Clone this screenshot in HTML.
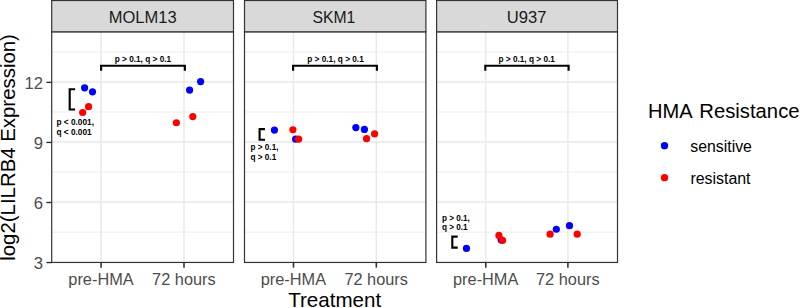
<!DOCTYPE html>
<html><head><meta charset="utf-8"><title>chart</title>
<style>html,body{margin:0;padding:0;background:#fff;}body{width:800px;height:308px;overflow:hidden;font-family:"Liberation Sans",sans-serif;}</style>
</head><body>
<svg width="800" height="308" viewBox="0 0 800 308" style="display:block;font-family:'Liberation Sans',sans-serif">
<rect x="0" y="0" width="800" height="308" fill="#fff"/>
<rect x="51.7" y="31.8" width="181.8" height="230.64999999999998" fill="#fff"/>
<line x1="51.7" x2="233.5" y1="232.11999999999998" y2="232.11999999999998" stroke="#EBEBEB" stroke-width="0.95"/>
<line x1="51.7" x2="233.5" y1="172.05999999999997" y2="172.05999999999997" stroke="#EBEBEB" stroke-width="0.95"/>
<line x1="51.7" x2="233.5" y1="111.99999999999997" y2="111.99999999999997" stroke="#EBEBEB" stroke-width="0.95"/>
<line x1="51.7" x2="233.5" y1="51.93999999999997" y2="51.93999999999997" stroke="#EBEBEB" stroke-width="0.95"/>
<line x1="51.7" x2="233.5" y1="202.08999999999997" y2="202.08999999999997" stroke="#E9E9E9" stroke-width="1.5"/>
<line x1="51.7" x2="233.5" y1="142.02999999999997" y2="142.02999999999997" stroke="#E9E9E9" stroke-width="1.5"/>
<line x1="51.7" x2="233.5" y1="81.96999999999997" y2="81.96999999999997" stroke="#E9E9E9" stroke-width="1.5"/>
<line x1="101.1" x2="101.1" y1="31.8" y2="262.45" stroke="#E9E9E9" stroke-width="1.5"/>
<line x1="184.0" x2="184.0" y1="31.8" y2="262.45" stroke="#E9E9E9" stroke-width="1.5"/>
<rect x="244.5" y="31.8" width="181.39999999999998" height="230.64999999999998" fill="#fff"/>
<line x1="244.5" x2="425.9" y1="232.11999999999998" y2="232.11999999999998" stroke="#EBEBEB" stroke-width="0.95"/>
<line x1="244.5" x2="425.9" y1="172.05999999999997" y2="172.05999999999997" stroke="#EBEBEB" stroke-width="0.95"/>
<line x1="244.5" x2="425.9" y1="111.99999999999997" y2="111.99999999999997" stroke="#EBEBEB" stroke-width="0.95"/>
<line x1="244.5" x2="425.9" y1="51.93999999999997" y2="51.93999999999997" stroke="#EBEBEB" stroke-width="0.95"/>
<line x1="244.5" x2="425.9" y1="202.08999999999997" y2="202.08999999999997" stroke="#E9E9E9" stroke-width="1.5"/>
<line x1="244.5" x2="425.9" y1="142.02999999999997" y2="142.02999999999997" stroke="#E9E9E9" stroke-width="1.5"/>
<line x1="244.5" x2="425.9" y1="81.96999999999997" y2="81.96999999999997" stroke="#E9E9E9" stroke-width="1.5"/>
<line x1="293.5" x2="293.5" y1="31.8" y2="262.45" stroke="#E9E9E9" stroke-width="1.5"/>
<line x1="376.3" x2="376.3" y1="31.8" y2="262.45" stroke="#E9E9E9" stroke-width="1.5"/>
<rect x="436.6" y="31.8" width="180.89999999999998" height="230.64999999999998" fill="#fff"/>
<line x1="436.6" x2="617.5" y1="232.11999999999998" y2="232.11999999999998" stroke="#EBEBEB" stroke-width="0.95"/>
<line x1="436.6" x2="617.5" y1="172.05999999999997" y2="172.05999999999997" stroke="#EBEBEB" stroke-width="0.95"/>
<line x1="436.6" x2="617.5" y1="111.99999999999997" y2="111.99999999999997" stroke="#EBEBEB" stroke-width="0.95"/>
<line x1="436.6" x2="617.5" y1="51.93999999999997" y2="51.93999999999997" stroke="#EBEBEB" stroke-width="0.95"/>
<line x1="436.6" x2="617.5" y1="202.08999999999997" y2="202.08999999999997" stroke="#E9E9E9" stroke-width="1.5"/>
<line x1="436.6" x2="617.5" y1="142.02999999999997" y2="142.02999999999997" stroke="#E9E9E9" stroke-width="1.5"/>
<line x1="436.6" x2="617.5" y1="81.96999999999997" y2="81.96999999999997" stroke="#E9E9E9" stroke-width="1.5"/>
<line x1="485.8" x2="485.8" y1="31.8" y2="262.45" stroke="#E9E9E9" stroke-width="1.5"/>
<line x1="567.9" x2="567.9" y1="31.8" y2="262.45" stroke="#E9E9E9" stroke-width="1.5"/>
<circle cx="84.6" cy="87.85" r="3.6" fill="#0000FF"/>
<circle cx="92.5" cy="91.8" r="3.6" fill="#0000FF"/>
<circle cx="88.55" cy="106.7" r="3.6" fill="#FF0000"/>
<circle cx="82.65" cy="112.5" r="3.6" fill="#FF0000"/>
<circle cx="189.6" cy="90.05" r="3.6" fill="#0000FF"/>
<circle cx="200.6" cy="81.55" r="3.6" fill="#0000FF"/>
<circle cx="192.8" cy="116.6" r="3.6" fill="#FF0000"/>
<circle cx="176.4" cy="122.75" r="3.6" fill="#FF0000"/>
<circle cx="274.45" cy="130.1" r="3.6" fill="#0000FF"/>
<circle cx="295.65" cy="139.15" r="3.6" fill="#0000FF"/>
<circle cx="292.9" cy="129.75" r="3.6" fill="#FF0000"/>
<circle cx="298.6" cy="139.15" r="3.6" fill="#FF0000"/>
<circle cx="355.85" cy="127.55" r="3.6" fill="#0000FF"/>
<circle cx="364.4" cy="129.4" r="3.6" fill="#0000FF"/>
<circle cx="374.55" cy="133.8" r="3.6" fill="#FF0000"/>
<circle cx="366.55" cy="138.65" r="3.6" fill="#FF0000"/>
<circle cx="466.45" cy="248.4" r="3.6" fill="#0000FF"/>
<circle cx="501.1" cy="239.8" r="3.6" fill="#0000FF"/>
<circle cx="498.9" cy="235.4" r="3.6" fill="#FF0000"/>
<circle cx="502.5" cy="240.4" r="3.6" fill="#FF0000"/>
<circle cx="550.1" cy="234.15" r="3.6" fill="#FF0000"/>
<circle cx="556.3" cy="229.25" r="3.6" fill="#0000FF"/>
<circle cx="569.5" cy="225.7" r="3.6" fill="#0000FF"/>
<circle cx="577.2" cy="234.15" r="3.6" fill="#FF0000"/>
<path d="M101.1 70.8 V65.8 H184.85 V70.8" fill="none" stroke="#000" stroke-width="2.13" stroke-linejoin="miter"/>
<path d="M293.1 70.8 V65.8 H376.9 V70.8" fill="none" stroke="#000" stroke-width="2.13" stroke-linejoin="miter"/>
<path d="M485.3 70.8 V65.8 H568.6 V70.8" fill="none" stroke="#000" stroke-width="2.13" stroke-linejoin="miter"/>
<path d="M75.10000000000001 89.2 H69.7 V109.45 H75.10000000000001" fill="none" stroke="#000" stroke-width="2.13" stroke-linejoin="miter"/>
<path d="M265.0 129.15 H259.6 V139.8 H265.0" fill="none" stroke="#000" stroke-width="2.13" stroke-linejoin="miter"/>
<path d="M457.7 236.6 H452.3 V247.6 H457.7" fill="none" stroke="#000" stroke-width="2.13" stroke-linejoin="miter"/>
<text transform="translate(142.9,61.65) scale(0.972,1)" font-size="8.5" font-weight="bold" text-anchor="middle" fill="#000">p &gt; 0.1, q &gt; 0.1</text>
<text transform="translate(335.5,61.65) scale(0.972,1)" font-size="8.5" font-weight="bold" text-anchor="middle" fill="#000">p &gt; 0.1, q &gt; 0.1</text>
<text transform="translate(526.65,61.65) scale(0.972,1)" font-size="8.5" font-weight="bold" text-anchor="middle" fill="#000">p &gt; 0.1, q &gt; 0.1</text>
<text transform="translate(56.5,125.0) scale(0.985,1)" font-size="8.4" font-weight="bold" text-anchor="start" fill="#000">p &lt; 0.001,</text>
<text transform="translate(56.5,134.5) scale(0.985,1)" font-size="8.4" font-weight="bold" text-anchor="start" fill="#000">q &lt; 0.001</text>
<text transform="translate(250.5,150.3) scale(0.975,1)" font-size="8.4" font-weight="bold" text-anchor="start" fill="#000">p &gt; 0.1,</text>
<text transform="translate(250.5,160.1) scale(0.975,1)" font-size="8.4" font-weight="bold" text-anchor="start" fill="#000">q &gt; 0.1</text>
<text transform="translate(441.9,221.4) scale(0.975,1)" font-size="8.4" font-weight="bold" text-anchor="start" fill="#000">p &gt; 0.1,</text>
<text transform="translate(441.9,230.4) scale(0.975,1)" font-size="8.4" font-weight="bold" text-anchor="start" fill="#000">q &gt; 0.1</text>
<rect x="51.7" y="31.8" width="181.8" height="230.64999999999998" fill="none" stroke="#333" stroke-width="1.2"/>
<rect x="51.7" y="0.5" width="181.8" height="31.3" fill="#D9D9D9" stroke="#333" stroke-width="1.2"/>
<text transform="translate(142.7,22.85) scale(1.053,1)" font-size="15.7" font-weight="normal" text-anchor="middle" fill="#1A1A1A">MOLM13</text>
<line x1="101.1" x2="101.1" y1="262.45" y2="267.65" stroke="#333" stroke-width="1.6"/>
<text transform="translate(101.0,285.0) scale(1.022,1)" font-size="16" font-weight="normal" text-anchor="middle" fill="#4D4D4D">pre-HMA</text>
<line x1="184.0" x2="184.0" y1="262.45" y2="267.65" stroke="#333" stroke-width="1.6"/>
<text transform="translate(183.9,285.0) scale(1.022,1)" font-size="16" font-weight="normal" text-anchor="middle" fill="#4D4D4D">72 hours</text>
<rect x="244.5" y="31.8" width="181.39999999999998" height="230.64999999999998" fill="none" stroke="#333" stroke-width="1.2"/>
<rect x="244.5" y="0.5" width="181.39999999999998" height="31.3" fill="#D9D9D9" stroke="#333" stroke-width="1.2"/>
<text transform="translate(333.9,22.85) scale(1.005,1)" font-size="15.7" font-weight="normal" text-anchor="middle" fill="#1A1A1A">SKM1</text>
<line x1="293.5" x2="293.5" y1="262.45" y2="267.65" stroke="#333" stroke-width="1.6"/>
<text transform="translate(293.4,285.0) scale(1.022,1)" font-size="16" font-weight="normal" text-anchor="middle" fill="#4D4D4D">pre-HMA</text>
<line x1="376.3" x2="376.3" y1="262.45" y2="267.65" stroke="#333" stroke-width="1.6"/>
<text transform="translate(376.2,285.0) scale(1.022,1)" font-size="16" font-weight="normal" text-anchor="middle" fill="#4D4D4D">72 hours</text>
<rect x="436.6" y="31.8" width="180.89999999999998" height="230.64999999999998" fill="none" stroke="#333" stroke-width="1.2"/>
<rect x="436.6" y="0.5" width="180.89999999999998" height="31.3" fill="#D9D9D9" stroke="#333" stroke-width="1.2"/>
<text transform="translate(526.5999999999999,22.85) scale(1.06,1)" font-size="15.7" font-weight="normal" text-anchor="middle" fill="#1A1A1A">U937</text>
<line x1="485.8" x2="485.8" y1="262.45" y2="267.65" stroke="#333" stroke-width="1.6"/>
<text transform="translate(485.7,285.0) scale(1.022,1)" font-size="16" font-weight="normal" text-anchor="middle" fill="#4D4D4D">pre-HMA</text>
<line x1="567.9" x2="567.9" y1="262.45" y2="267.65" stroke="#333" stroke-width="1.6"/>
<text transform="translate(567.8,285.0) scale(1.022,1)" font-size="16" font-weight="normal" text-anchor="middle" fill="#4D4D4D">72 hours</text>
<line x1="46.4" x2="51.7" y1="262.54999999999995" y2="262.54999999999995" stroke="#2a2a2a" stroke-width="1.35"/>
<text transform="translate(42.9,268.75) scale(1.04,1)" font-size="16" font-weight="normal" text-anchor="end" fill="#4D4D4D">3</text>
<line x1="46.4" x2="51.7" y1="202.48999999999998" y2="202.48999999999998" stroke="#2a2a2a" stroke-width="1.35"/>
<text transform="translate(42.9,208.68999999999997) scale(1.04,1)" font-size="16" font-weight="normal" text-anchor="end" fill="#4D4D4D">6</text>
<line x1="46.4" x2="51.7" y1="142.42999999999998" y2="142.42999999999998" stroke="#2a2a2a" stroke-width="1.35"/>
<text transform="translate(42.9,148.62999999999997) scale(1.04,1)" font-size="16" font-weight="normal" text-anchor="end" fill="#4D4D4D">9</text>
<line x1="46.4" x2="51.7" y1="82.36999999999998" y2="82.36999999999998" stroke="#2a2a2a" stroke-width="1.35"/>
<text transform="translate(42.9,88.56999999999996) scale(1.04,1)" font-size="16" font-weight="normal" text-anchor="end" fill="#4D4D4D">12</text>
<text transform="translate(334.7,307.0) scale(1.029,1)" font-size="20" font-weight="normal" text-anchor="middle" fill="#000">Treatment</text>
<text transform="translate(15,147.45) rotate(-90) scale(1.02,1)" font-size="20" text-anchor="middle" fill="#000">log2(LILRB4 Expression)</text>
<text transform="translate(648.1,117.9) scale(1.02,1)" font-size="19.7" font-weight="normal" text-anchor="start" fill="#000">HMA</text>
<text transform="translate(699.25,117.9) scale(1.03,1)" font-size="19.7" font-weight="normal" text-anchor="start" fill="#000">Resistance</text>
<circle cx="664.5" cy="145.65" r="3.65" fill="#0000FF"/>
<circle cx="664.5" cy="177.65" r="3.65" fill="#FF0000"/>
<text transform="translate(690.3,151.9) scale(0.99,1)" font-size="16" font-weight="normal" text-anchor="start" fill="#000">sensitive</text>
<text transform="translate(690.4,183.8) scale(0.995,1)" font-size="16" font-weight="normal" text-anchor="start" fill="#000">resistant</text>
</svg>
</body></html>
